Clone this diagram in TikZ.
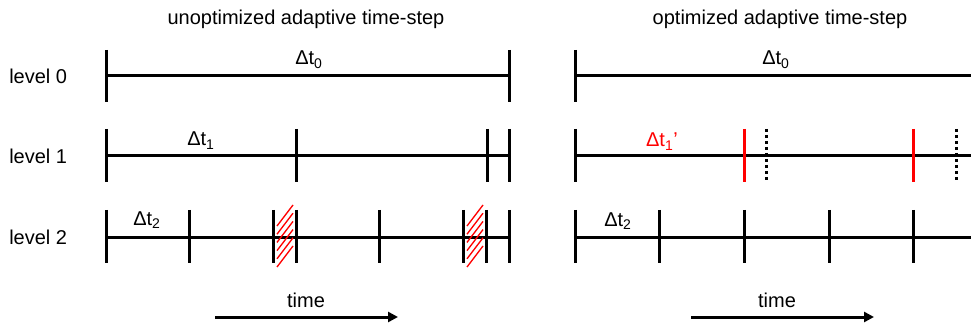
\documentclass[tikz,border=0pt]{standalone}
\usepackage{fontspec}
\setmainfont{Liberation Sans}
\usetikzlibrary{arrows.meta}

\tikzset{
    bar/.style={line width=2.25pt},
    redbar/.style={line width=2.25pt,red},
    oldbar/.style={line width=2.25pt,dash pattern=on 2.25pt off 2.25pt},
    hatch/.style={red,line width=1pt},
    txt/.style={font=\fontsize{15}{18}\selectfont,inner sep=0pt},
    timearrow/.style={line width=2.25pt,-{Triangle[length=7.5pt,width=7.5pt]}}
}

\begin{document}
\begin{tikzpicture}[x=0.75pt,y=-0.75pt]
        \useasboundingbox (0,0) rectangle (971,324);

        % titles and level names
        \node[txt] (titleunopt) at (306,19) {unoptimized adaptive time-step};
        \node[txt] (titleopt) at (780,19) {optimized adaptive time-step};
        \node[txt,anchor=west] (lvlzero) at (9,76) {level 0};
        \node[txt,anchor=west] (lvlone) at (9,156) {level 1};
        \node[txt,anchor=west] (lvltwo) at (9,237) {level 2};

        % unoptimized: level 0
        \draw[bar] (106,76) -- (509,76);
        \draw[bar] (106,50) -- (106,102) (509,50) -- (509,102);
        \node[txt,anchor=base] (dtzeoleft) at (309,65) {Δt\textsubscript{0}};

        % unoptimized: level 1
        \draw[bar] (106,156) -- (509,156);
        \draw[bar] (106,129) -- (106,182) (296,129) -- (296,182)
                   (487,129) -- (487,182) (509,129) -- (509,182);
        \node[txt,anchor=base] (dtoneleft) at (201,146) {Δt\textsubscript{1}};

        % unoptimized: level 2
        \draw[bar] (106,237) -- (509,237);
        \draw[bar] (106,210) -- (106,263) (189,210) -- (189,263)
                   (273,210) -- (273,263) (296,210) -- (296,263)
                   (379,210) -- (379,263) (463,210) -- (463,263)
                   (486,210) -- (486,263) (509,210) -- (509,263);
        \node[txt,anchor=base] (dttwoleft) at (147,225) {Δt\textsubscript{2}};

        % wasted slivers
        \draw[hatch] (277,267) -- (293,246) (277,258.8) -- (293,237.8)
                     (277,250.6) -- (293,229.6) (277,242.4) -- (293,221.4)
                     (277,234.2) -- (293,213.2) (277,226) -- (293,205);
        \draw[hatch] (467,267) -- (483,246) (467,258.8) -- (483,237.8)
                     (467,250.6) -- (483,229.6) (467,242.4) -- (483,221.4)
                     (467,234.2) -- (483,213.2) (467,226) -- (483,205);

        % optimized: level 0
        \draw[bar] (575,76) -- (971,76);
        \draw[bar] (575,50) -- (575,102);
        \node[txt,anchor=base] (dtzeroright) at (776,65) {Δt\textsubscript{0}};

        % optimized: level 1
        \draw[bar] (575,156) -- (971,156);
        \draw[bar] (575,129) -- (575,182);
        \draw[redbar] (744,129) -- (744,182) (913,129) -- (913,182);
        \draw[oldbar] (766,129) -- (766,182) (956,129) -- (956,182);
        \node[txt,anchor=base,red] (dtoneright) at (662,147) {Δt\textsubscript{1}’};

        % optimized: level 2
        \draw[bar] (575,237) -- (971,237);
        \draw[bar] (575,210) -- (575,263) (659,210) -- (659,263)
                   (744,210) -- (744,263) (829,210) -- (829,263)
                   (913,210) -- (913,263);
        \node[txt,anchor=base] (dttworight) at (618,226) {Δt\textsubscript{2}};

        % time arrows
        \coordinate (tstartleft) at (215,317);
        \coordinate (tendleft) at (398,317);
        \draw[timearrow] (tstartleft) -- (tendleft);
        \node[txt,anchor=base] (timeleft) at (306,307) {time};
        \coordinate (tstartright) at (691,317);
        \coordinate (tendright) at (874,317);
        \draw[timearrow] (tstartright) -- (tendright);
        \node[txt,anchor=base] (timeright) at (777,307) {time};
    \end{tikzpicture}
\end{document}
